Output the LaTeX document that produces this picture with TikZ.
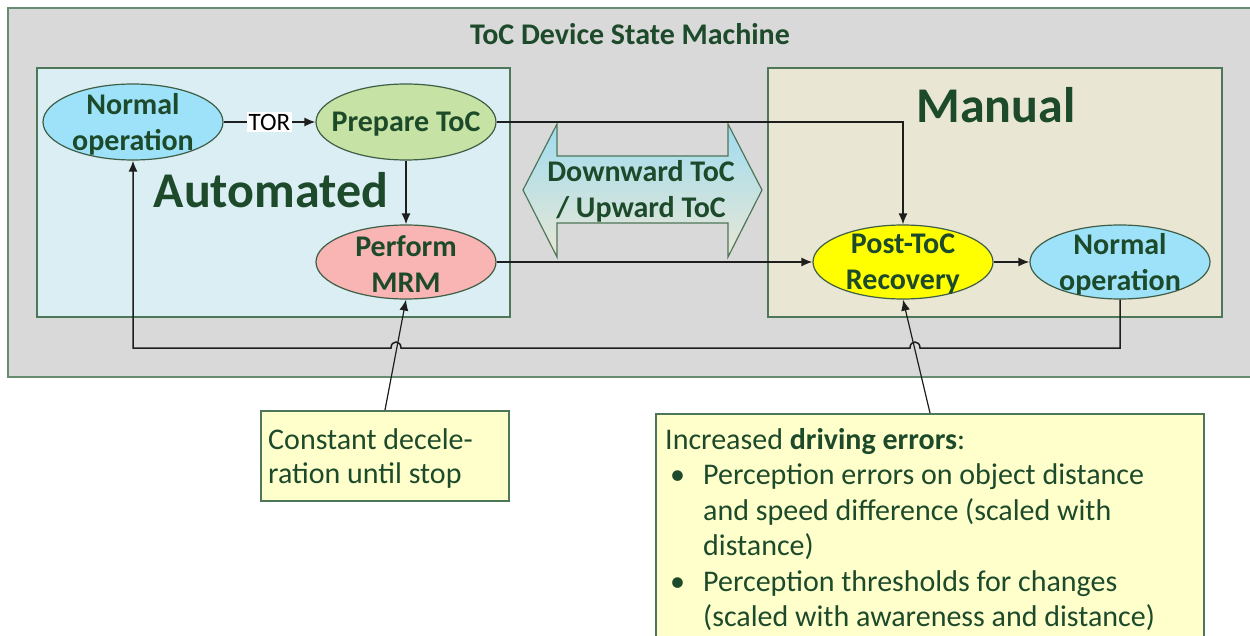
\documentclass[tikz,border=0pt]{standalone}
\usepackage{fontspec}
\setmainfont{Carlito}
\usetikzlibrary{shapes.geometric,arrows.meta,calc}
\definecolor{txtgreen}{RGB}{28,74,42}
\definecolor{outerfill}{RGB}{217,217,217}
\definecolor{outerline}{RGB}{104,140,112}
\definecolor{boxline}{RGB}{78,118,88}
\definecolor{autofill}{RGB}{218,238,243}
\definecolor{manfill}{RGB}{233,231,212}
\definecolor{normfill}{RGB}{158,226,250}
\definecolor{prepfill}{RGB}{198,226,164}
\definecolor{mrmfill}{RGB}{249,180,180}
\definecolor{postfill}{RGB}{255,255,0}
\definecolor{callfill}{RGB}{255,255,204}
\definecolor{arrowblue}{RGB}{160,220,240}
\definecolor{linecol}{RGB}{30,30,30}
\begin{document}
\begin{tikzpicture}[x=1bp,y=-1bp,
  state/.style={ellipse,draw=boxline!80!black,line width=1.2bp,minimum width=180bp,minimum height=76bp,inner sep=0pt},
  stxt/.style={align=center,text=txtgreen,font=\fontsize{30bp}{36bp}\selectfont\bfseries,yshift=-2bp},
  conn/.style={draw=linecol,line width=1.5bp,-{Latex[length=11bp,width=9bp]}},
  region/.style={draw=boxline,line width=2bp,rectangle,inner sep=0pt},
  callout/.style={draw=boxline,line width=2bp,fill=callfill,rectangle,inner sep=0pt},
  ctext/.style={inner sep=0pt,text=txtgreen,font=\fontsize{30bp}{34bp}\selectfont}
]
\clip (0,0) rectangle (1250,636);
\useasboundingbox (0,0) rectangle (1250,636);
\fill[white] (0,0) rectangle (1250,636);
% outer state machine box
\draw[fill=outerfill,draw=outerline,line width=2.5bp] (8,8) rectangle (1265,377);
\node[text=txtgreen,font=\fontsize{30bp}{36bp}\selectfont\bfseries] (title) at (630,34) {ToC Device State Machine};
% regions
\draw[region,fill=autofill] (37,68) rectangle (510,317);
\draw[region,fill=manfill] (768,68) rectangle (1222,317);
\node[text=txtgreen,font=\fontsize{50bp}{60bp}\selectfont\bfseries] (autolbl) at (271,190) {Automated};
\node[text=txtgreen,font=\fontsize{50bp}{60bp}\selectfont\bfseries] (manlbl) at (996,105) {Manual};
% double arrow
\shade[left color=arrowblue,right color=manfill,shading angle=0,draw=boxline,line width=1.2bp]
  (523,190) -- (557,124) -- (557,156) -- (728,156) -- (728,124) -- (762,190)
  -- (728,257) -- (728,223) -- (557,223) -- (557,257) -- cycle;
\node[stxt] (dirlbl) at (641,189) {Downward ToC\\/ Upward ToC};
% states
\node[state,fill=normfill,label={[stxt]center:Normal\\operation}] (nol) at (133,122) {};
\node[state,fill=prepfill,label={[stxt]center:Prepare ToC}] (prep) at (406,122) {};
\node[state,fill=mrmfill,minimum height=74bp,label={[stxt]center:Perform\\MRM}] (mrm) at (406,262) {};
\node[state,fill=postfill,minimum height=74bp,label={[stxt]center:Post-ToC\\Recovery}] (post) at (903,262) {};
\node[state,fill=normfill,minimum height=74bp,label={[stxt]center:Normal\\operation}] (nor) at (1120,262) {};
% callouts
\node[callout,minimum width=248bp,minimum height=90bp,anchor=north] (c1) at (385,410) {};
\node[ctext,anchor=base west] (c1txt) at (268,449) {\begin{tabular}[t]{@{}l@{}}Constant decele-\\ration until stop\end{tabular}};
\node[callout,minimum width=548bp,minimum height=260bp,anchor=north] (c2) at (930,413) {};
\node[ctext,anchor=base west,font=\fontsize{30bp}{35.5bp}\selectfont] (c2txt) at (665,449) {\begin{tabular}[t]{@{}p{38bp}@{}l@{}}
\multicolumn{2}{@{}l@{}}{Increased \textbf{driving errors}:}\\
\hspace{5bp}\textbullet & Perception errors on object distance\\
 & and speed difference (scaled with\\
 & distance)\\
\hspace{5bp}\textbullet & Perception thresholds for changes\\
 & (scaled with awareness and distance)
\end{tabular}};
% connectors
\draw[conn] (nol) -- node[fill=white,inner sep=1.5bp,text=black,font=\fontsize{25bp}{30bp}\selectfont] (tor) {TOR} (prep);
\draw[conn] (prep) -- (mrm);
\draw[conn] (prep.east) -- (prep.east -| post.north) -- (post.north);
\draw[conn] (mrm) -- (post);
\draw[conn] (post) -- (nor);
\coordinate (j1) at (396,348);
\coordinate (j2) at (915,348);
\draw[conn] (nor.south) -- (nor.south |- j2) -- ([xshift=5bp]j2)
  .. controls ([xshift=5bp,yshift=8bp]j2) and ([xshift=-5bp,yshift=8bp]j2) .. ([xshift=-5bp]j2)
  -- ([xshift=5bp]j1)
  .. controls ([xshift=5bp,yshift=8bp]j1) and ([xshift=-5bp,yshift=8bp]j1) .. ([xshift=-5bp]j1)
  -- (nol.south |- j1) -- (nol.south);
\draw[conn,line width=1.2bp] (c1.north) -- (mrm.south);
\draw[conn,line width=1.2bp] (c2.north) -- (post.south);
\end{tikzpicture}
\end{document}
